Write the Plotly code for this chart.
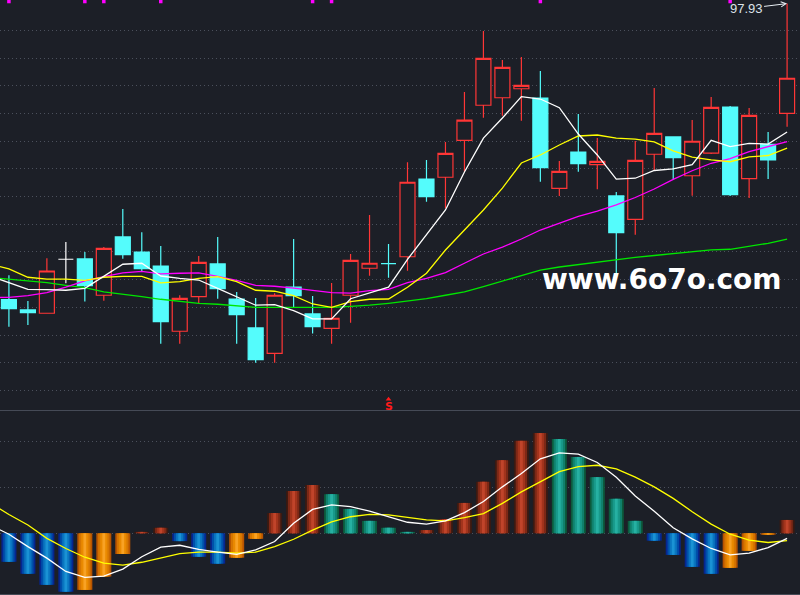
import plotly.graph_objects as go

# ---- data ----
idx = list(range(42))
open_ = [76.55, 75.81, 75.57, 79.47, 79.49, 76.87, 81.08, 79.99, 78.98, 74.27,
         76.77, 79.13, 76.60, 74.51, 72.68, 77.45, 75.52, 74.48, 76.87, 78.82,
         79.15, 79.65, 85.26, 85.39, 88.06, 90.59, 91.13, 91.78, 91.11, 84.59,
         87.21, 86.30, 84.04, 82.35, 87.05, 88.30, 85.50, 87.14, 90.46, 85.29,
         87.77, 90.01]
high = [78.31, 76.46, 79.54, 80.72, 79.99, 80.35, 83.10, 81.42, 80.43, 76.87,
        79.70, 81.08, 77.11, 76.67, 77.01, 80.93, 76.82, 77.76, 79.85, 82.66,
        80.57, 86.47, 86.64, 87.94, 91.55, 95.95, 93.86, 94.07, 93.06, 86.56,
        89.96, 88.22, 84.33, 88.01, 91.83, 88.30, 89.52, 91.18, 90.53, 90.39,
        88.66, 97.93]
low = [74.60, 74.72, 75.55, 77.73, 76.41, 76.48, 79.51, 78.55, 73.37, 73.37,
       76.31, 76.62, 73.37, 72.00, 72.00, 75.97, 74.10, 73.37, 74.89, 78.28,
       78.14, 78.64, 83.63, 83.15, 85.79, 89.69, 89.83, 89.47, 85.07, 84.04,
       85.79, 84.52, 78.14, 81.24, 85.91, 85.19, 84.06, 87.07, 84.04, 83.89,
       85.26, 89.04]
close = [75.90, 75.61, 78.62, 79.47, 77.56, 80.26, 79.80, 78.79, 74.96, 76.65,
         79.25, 77.34, 75.47, 72.22, 76.87, 76.84, 74.60, 75.21, 79.39, 79.18,
         79.15, 85.03, 83.99, 87.12, 89.52, 93.98, 93.33, 92.03, 86.08, 85.82,
         86.37, 86.54, 81.39, 86.61, 88.56, 86.80, 87.99, 90.44, 84.13, 89.86,
         86.64, 92.54]

# moving averages start one session before the first visible candle
ma_x = list(range(-1, 42))
ma5 = [78.26, 77.78, 77.30, 77.27, 77.23, 77.37, 78.21, 79.11, 79.18, 78.26,
       78.09, 77.97, 77.37, 76.77, 76.15, 76.19, 75.76, 75.16, 75.16, 76.62,
       77.01, 77.45, 79.46, 81.29, 83.03, 85.77, 88.22, 89.67, 91.21, 91.04,
       90.41, 88.51, 87.00, 85.26, 85.32, 85.88, 85.99, 86.30, 88.06, 87.60,
       87.84, 87.79, 88.66]
ma10 = [79.13, 78.77, 78.17, 78.04, 78.04, 77.95, 78.17, 78.24, 78.24, 77.76,
        77.85, 78.09, 78.21, 77.85, 77.23, 77.16, 76.84, 76.24, 76.00, 76.41,
        76.58, 76.60, 77.45, 78.46, 80.14, 81.58, 83.03, 84.61, 86.42, 87.00,
        87.72, 88.37, 88.44, 88.22, 88.15, 87.94, 87.29, 86.85, 86.64, 86.51,
        86.87, 86.96, 87.50]
ma20 = [76.71, 76.72, 76.84, 77.06, 77.45, 77.90, 78.21, 78.48, 78.60, 78.41,
        78.46, 78.48, 78.24, 77.95, 77.59, 77.52, 77.39, 77.25, 77.06, 77.03,
        77.20, 77.30, 77.78, 78.09, 78.50, 79.18, 79.85, 80.35, 80.93, 81.58,
        82.09, 82.56, 82.95, 83.39, 83.93, 84.54, 85.24, 85.86, 86.40, 86.73,
        87.24, 87.60, 87.96]
ma60 = [78.15, 78.02, 77.88, 77.78, 77.59, 77.42, 77.11, 76.96, 76.77, 76.58,
        76.41, 76.29, 76.22, 76.10, 76.00, 76.00, 76.00, 75.95, 76.00, 76.07,
        76.15, 76.29, 76.43, 76.62, 76.87, 77.11, 77.49, 77.90, 78.26, 78.69,
        78.91, 79.09, 79.27, 79.42, 79.60, 79.74, 79.89, 80.03, 80.14, 80.19,
        80.38, 80.62, 80.93]

macd = [-0.62, -0.88, -1.12, -1.27, -1.23, -0.94, -0.45, 0.03, 0.12, -0.17,
        -0.51, -0.66, -0.53, -0.12, 0.44, 0.92, 1.05, 0.85, 0.53, 0.27,
        0.12, 0.03, 0.07, 0.31, 0.66, 1.12, 1.59, 2.01, 2.18, 2.05,
        1.66, 1.22, 0.75, 0.27, -0.16, -0.47, -0.73, -0.88, -0.75, -0.38,
        -0.03, 0.29]
dif = [0.18, -0.02, -0.29, -0.54, -0.83, -0.96, -0.93, -0.78, -0.51, -0.30,
       -0.26, -0.35, -0.41, -0.46, -0.36, -0.18, 0.22, 0.52, 0.62, 0.58,
       0.48, 0.36, 0.24, 0.20, 0.27, 0.45, 0.69, 1.01, 1.30, 1.62,
       1.75, 1.72, 1.54, 1.22, 0.81, 0.48, 0.12, -0.12, -0.33, -0.47,
       -0.43, -0.31, -0.11]
dea = [0.66, 0.41, 0.18, -0.11, -0.33, -0.52, -0.65, -0.69, -0.63, -0.54,
       -0.44, -0.41, -0.41, -0.43, -0.41, -0.29, -0.13, 0.07, 0.25, 0.36,
       0.41, 0.40, 0.35, 0.29, 0.27, 0.34, 0.43, 0.65, 0.90, 1.12,
       1.34, 1.45, 1.48, 1.40, 1.22, 1.01, 0.76, 0.47, 0.20, -0.02,
       -0.15, -0.20, -0.16]

top_signal_idx = [0, 4, 5, 8, 16, 17, 28, 38]
sell_signal_idx = [20]
last_high_label = "97.93"

# ---- styling ----
BG = '#1c1f27'
GRID = '#4b505c'
RED = '#ff3636'
CYAN = '#54fcfc'
Y_TOP, Y_BOT = 98.19, 68.51
X_RANGE = [-0.47, 41.68]
SPLIT = 0.3092
LW = 1.3

fig = go.Figure()

# candles (hollow red up, solid cyan down); doji drawn on their own
body = [i for i in idx if open_[i] != close[i]]
fig.add_trace(go.Candlestick(
    x=body, open=[open_[i] for i in body], high=[high[i] for i in body],
    low=[low[i] for i in body], close=[close[i] for i in body],
    increasing=dict(line=dict(color=RED, width=1.2), fillcolor=BG),
    decreasing=dict(line=dict(color=CYAN, width=1.2), fillcolor=CYAN),
    whiskerwidth=0, hoverinfo='skip'))

for col, up in [('#ffffff', True), (CYAN, False)]:
    dj = [i for i in idx if open_[i] == close[i] and i > 0 and (close[i] >= close[i - 1]) == up]
    if not dj:
        continue
    fig.add_trace(go.Candlestick(
        x=dj, open=[open_[i] for i in dj], high=[high[i] for i in dj],
        low=[low[i] for i in dj], close=[close[i] for i in dj],
        increasing=dict(line=dict(color=col, width=1.2), fillcolor=col),
        decreasing=dict(line=dict(color=col, width=1.2), fillcolor=col),
        whiskerwidth=0, hoverinfo='skip'))

for vals, col in [(ma60, '#00e600'), (ma20, '#ff00ff'), (ma10, '#ffff00'), (ma5, '#ffffff')]:
    fig.add_trace(go.Scatter(x=ma_x, y=vals, mode='lines',
                             line=dict(color=col, width=LW), hoverinfo='skip'))

fig.add_trace(go.Scatter(x=top_signal_idx, y=[Y_TOP - 0.11] * len(top_signal_idx),
                         mode='markers', marker=dict(symbol='square', size=3.5, color='#ff00ff'),
                         hoverinfo='skip'))

# little red arrow above the "S" sell mark
fig.add_trace(go.Scatter(x=sell_signal_idx, y=[Y_BOT + 0.85] * len(sell_signal_idx),
                         mode='markers', marker=dict(symbol='triangle-up', size=5, color='#ff1a1a'),
                         hoverinfo='skip'))

# ---- MACD histogram with a cylinder-like shading ----
palettes = {
    'up': ['#3a1a12', '#7c2816', '#a2341c', '#c0442a'],
    'fade': ['#0c5a3c', '#10806c', '#18998a', '#26b0a2'],
    'down': ['#062690', '#0050aa', '#0a76c0', '#1a92d4'],
    'recover': ['#b85400', '#d67600', '#ea8a00', '#f8a224'],
}


def bar_kind(i):
    prev = macd[i - 1] if i > 0 else 0
    v = macd[i]
    if v >= 0:
        return 'up' if v >= prev else 'fade'
    return 'down' if v <= prev else 'recover'


kinds = [bar_kind(i) for i in idx]
for layer, w in enumerate([0.79, 0.60, 0.38, 0.15]):
    fig.add_trace(go.Bar(x=idx, y=macd, width=w, xaxis='x2', yaxis='y2',
                         marker=dict(color=[palettes[k][layer] for k in kinds], line=dict(width=0)),
                         hoverinfo='skip'))

fig.add_trace(go.Scatter(x=ma_x, y=dea, mode='lines', xaxis='x2', yaxis='y2',
                         line=dict(color='#ffff00', width=LW), hoverinfo='skip'))
fig.add_trace(go.Scatter(x=ma_x, y=dif, mode='lines', xaxis='x2', yaxis='y2',
                         line=dict(color='#ffffff', width=LW), hoverinfo='skip'))

# ---- annotations ----
anns = [
    dict(x=idx[-1], y=high[-1], xref='x', yref='y', text=last_high_label,
         showarrow=True, arrowhead=5, arrowsize=1, arrowwidth=1, arrowcolor='#e8eef4',
         ax=-41, ay=5, standoff=0,
         font=dict(family='Liberation Sans, Arial', size=13, color='#dce3ea')),
    dict(x=0.8275, y=1 - 279 / 595, xref='paper', yref='paper', text='<b>www.6o7o.com</b>',
         xanchor='center', yanchor='middle', showarrow=False,
         font=dict(family='DejaVu Sans', size=28, color='#ffffff')),
]
for s in sell_signal_idx:
    anns.append(dict(x=s, y=1 - 406 / 595, xref='x', yref='paper', text='<b>S</b>',
                     xanchor='center', yanchor='middle', showarrow=False,
                     font=dict(family='DejaVu Sans', size=11, color='#ff1a1a')))

grid = dict(showgrid=True, gridcolor=GRID, griddash='1px,3px', gridwidth=1,
            zeroline=False, showticklabels=False, ticks='', fixedrange=True)

fig.update_layout(
    width=800, height=595, margin=dict(l=0, r=0, t=0, b=0),
    paper_bgcolor=BG, plot_bgcolor=BG, showlegend=False, hovermode=False,
    barmode='overlay', boxgap=0.21, boxgroupgap=0,
    annotations=anns,
    xaxis=dict(domain=[0, 1], range=X_RANGE, anchor='y', showgrid=False, zeroline=False,
               showticklabels=False, ticks='', rangeslider=dict(visible=False)),
    xaxis2=dict(domain=[0, 1], range=X_RANGE, anchor='y2', showgrid=False, zeroline=False,
                showticklabels=False, ticks='', showline=True, mirror=True,
                linecolor='#454a56', linewidth=1),
    yaxis=dict(domain=[SPLIT, 1], range=[Y_BOT, Y_TOP], tickvals=list(range(70, 97, 2)), **grid),
    yaxis2=dict(domain=[1 / 595, SPLIT], range=[-1.32, 2.659], tickvals=[0, 1, 2], **grid),
)

# the page body has a default 8px margin; drop it so the chart fills the window
fig.write_html("out.html", config={'displayModeBar': False, 'staticPlot': True},
               post_script="document.body.style.margin='0';document.body.style.background='%s';" % BG)
